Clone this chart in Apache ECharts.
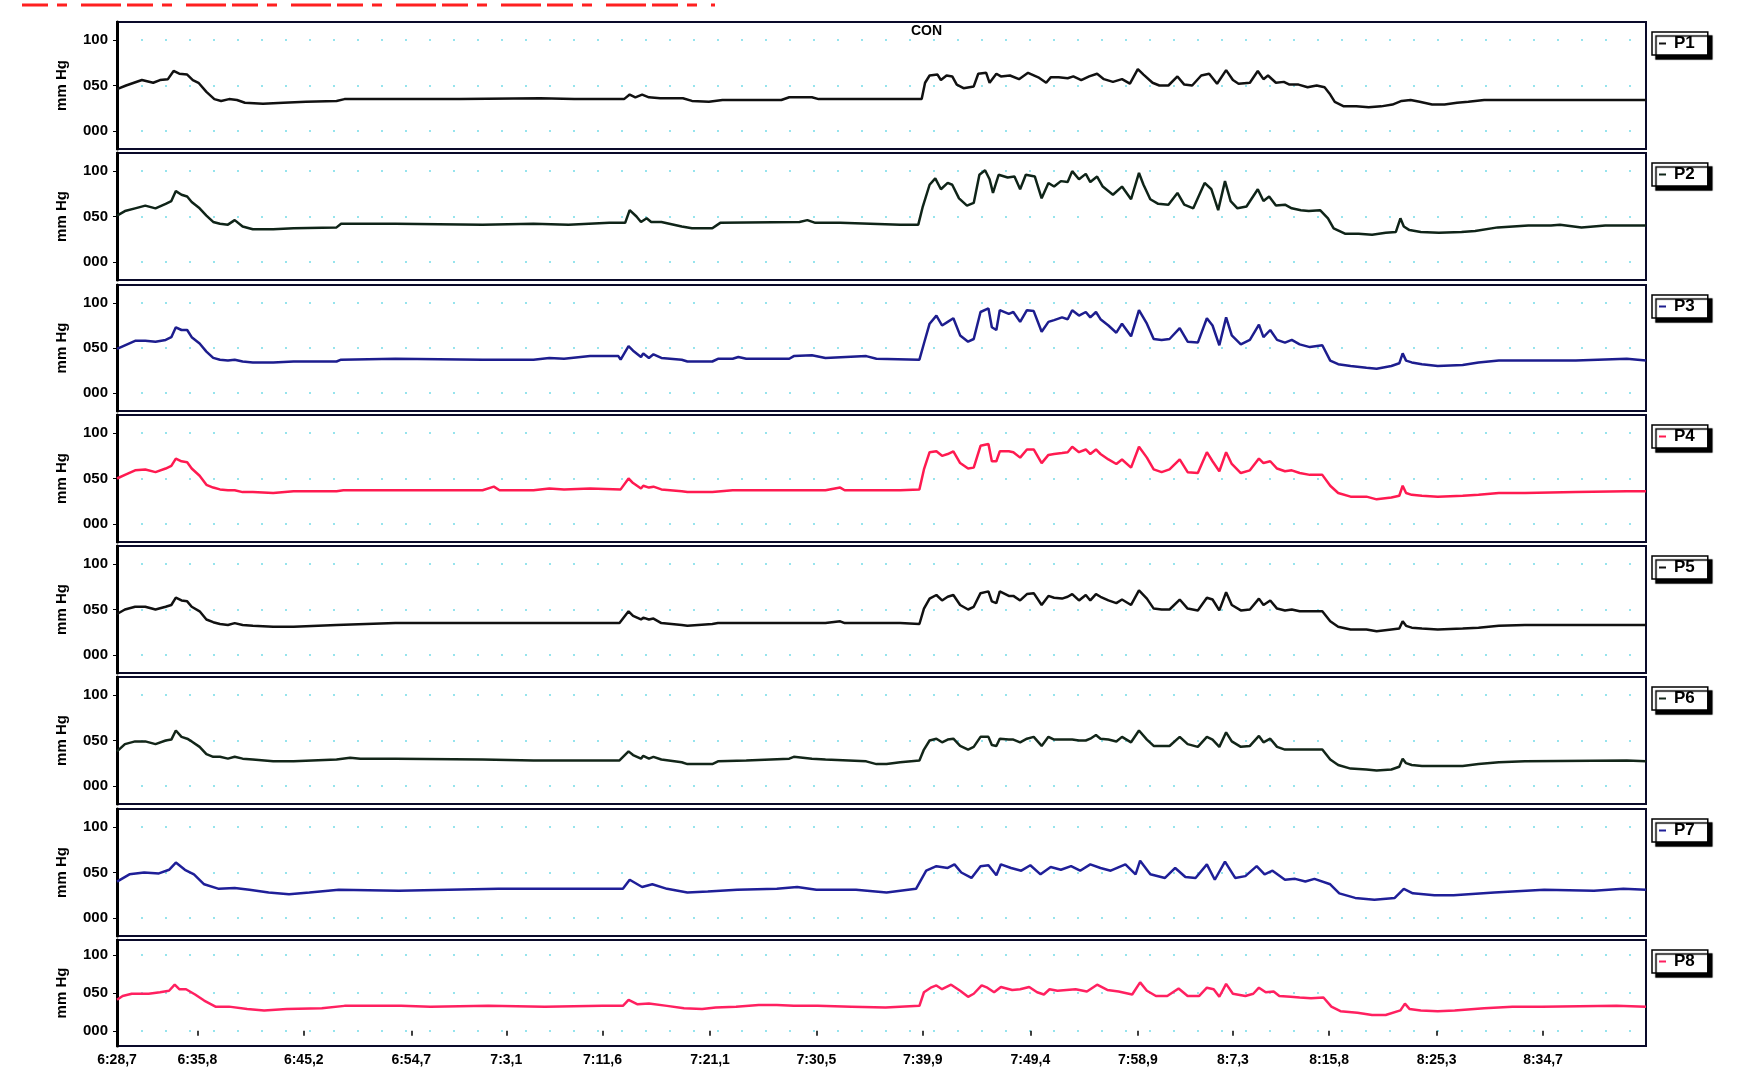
<!DOCTYPE html>
<html>
<head>
<meta charset="utf-8">
<script src="https://cdn.jsdelivr.net/npm/echarts@6/dist/echarts.min.js"></script>
<style>
    html, body { margin: 0; padding: 0; background: #fff; }
    #chart { width: 1752px; height: 1074px; }
</style>
</head>
<body>
<div id="chart"></div>
<script>
// time axis labels (h:min,tenths) and series names
const xTickLabels = ['6:28,7', '6:35,8', '6:45,2', '6:54,7', '7:3,1', '7:11,6', '7:21,1', '7:30,5',
    '7:39,9', '7:49,4', '7:58,9', '8:7,3', '8:15,8', '8:25,3', '8:34,7']
const yTickValues = [0, 50, 100]
const names = ['P1', 'P2', 'P3', 'P4', 'P5', 'P6', 'P7', 'P8']

// [minutes after 6:28,7, mm Hg]
const p1 = [[0,46],[0.8,50],[1.5,53],[2.2,56],[3.2,53],[3.8,56],[4.5,57],[5.0,66],[5.5,63],[6.2,62],[6.7,56],[7.2,53],[7.9,43],[8.6,35],[9.2,33],[9.9,35],[10.6,34],[11.3,31],[12.9,30],[14.7,31],[16.7,32],[19.4,33],[20.1,35],[23.5,35],[30.3,35],[37.4,36],[40.4,35],[42.7,35],[44.8,35],[45.3,40],[45.8,37],[46.4,40],[47.0,37],[48.0,36],[50.0,36],[50.8,33],[52.3,32],[53.5,34],[58.7,34],[59.4,37],[61.4,37],[62.0,35],[71.1,35],
    [71.4,53],[71.8,61],[72.5,62],[72.8,56],[73.3,61],[73.8,60],[74.2,51],[74.8,47],[75.7,49],[76.1,63],[76.8,64],[77.1,53],[77.7,63],[78.1,60],[78.9,61],[79.7,57],[80.5,64],[81.4,59],[82.1,53],[82.5,59],[83.2,59],[84.0,58],[84.5,60],[85.2,56],[85.9,60],[86.6,63],[87.2,57],[88.0,54],[88.8,57],[89.5,52],[90.2,68],[90.7,62],[91.5,53],[92.1,50],[92.9,50],[93.7,60],[94.3,51],[95.0,50],[95.8,61],[96.5,63],[97.2,52],[98.0,67],[98.6,56],[99.1,52],[100.1,53],[100.8,66],[101.3,57],[101.7,61],[102.4,53],[103.1,54],[103.6,51],[104.4,51],[105.2,48],[106.0,50],[106.7,48],[107.2,40],[107.6,32],[108.4,27],[109.5,27],[110.6,26],[111.7,27],[112.7,29],[113.5,33],[114.3,34],[115.1,32],[116.2,29],[117.3,29],[118.4,31],[119.4,32],[120.8,34],[135.1,34]]

const p2 = [[0,51],[0.7,56],[1.6,59],[2.5,62],[3.4,59],[4.3,64],[4.8,67],[5.2,78],[5.7,74],[6.2,72],[6.6,66],[7.3,59],[7.9,51],[8.5,44],[9.1,42],[9.8,41],[10.4,46],[11.1,39],[12.0,36],[13.8,36],[15.6,37],[19.4,38],[19.8,42],[24.6,42],[32.3,41],[36.8,42],[39.9,41],[43.5,43],[44.9,43],[45.3,57],[45.9,50],[46.3,44],[46.8,48],[47.2,44],[48.1,44],[49.9,39],[50.8,37],[52.6,37],[53.3,43],[60.3,44],[61.0,46],[61.7,43],[63.9,43],[69.2,41],[70.8,41],
    [71.2,61],[71.8,85],[72.3,92],[72.8,80],[73.4,87],[73.8,85],[74.4,70],[75.1,62],[75.7,65],[76.2,96],[76.7,101],[77.1,91],[77.4,76],[77.9,96],[78.7,93],[79.3,94],[79.8,80],[80.3,96],[81.1,94],[81.7,70],[82.3,87],[82.8,83],[83.4,89],[84.0,88],[84.4,100],[85.0,91],[85.6,97],[86.0,88],[86.6,94],[87.1,83],[88.0,74],[88.8,83],[89.6,69],[90.3,98],[90.7,85],[91.3,69],[92.0,64],[92.9,63],[93.7,76],[94.3,63],[95.1,59],[96.1,87],[96.7,80],[97.3,57],[97.9,89],[98.4,67],[99.0,59],[99.8,61],[100.8,80],[101.3,67],[101.8,72],[102.4,62],[103.2,63],[103.8,59],[104.6,57],[105.3,56],[106.3,57],[107.0,48],[107.5,37],[108.5,31],[109.7,31],[110.9,30],[112.1,32],[113.0,33],[113.4,48],[113.7,39],[114.2,35],[115.2,33],[116.8,32],[118.8,33],[120.0,34],[122.0,38],[124.7,40],[126.7,40],[127.5,41],[129.4,38],[131.5,40],[135.1,40]]

const p3 = [[0,49],[0.7,53],[1.6,58],[2.5,58],[3.4,57],[4.3,59],[4.8,62],[5.2,73],[5.7,70],[6.2,70],[6.6,62],[7.3,55],[7.9,46],[8.5,39],[9.1,37],[9.8,36],[10.4,37],[11.1,35],[12.0,34],[13.8,34],[15.6,35],[19.4,35],[19.8,37],[24.6,38],[32.3,37],[36.8,37],[38.2,39],[39.5,38],[41.8,41],[44.3,41],[44.5,37],[45.2,52],[45.6,47],[46.3,40],[46.5,44],[47.0,39],[47.4,43],[48.1,39],[49.9,37],[50.4,35],[52.6,35],[53.1,38],[54.4,38],[54.9,40],[55.6,38],[59.4,38],[59.8,41],[61.4,42],[62.6,39],[66.2,41],[67.1,38],[70.9,37],
    [71.3,55],[71.8,77],[72.4,86],[72.9,75],[73.4,79],[73.9,83],[74.5,64],[75.2,57],[75.7,60],[76.3,90],[77.0,94],[77.3,73],[77.7,70],[78.0,92],[78.8,88],[79.2,90],[79.8,79],[80.4,92],[81.0,91],[81.7,68],[82.3,79],[82.8,81],[83.5,84],[84.0,82],[84.4,92],[85.0,86],[85.6,90],[86.0,84],[86.5,90],[86.9,82],[87.6,75],[88.3,67],[88.8,77],[89.6,63],[90.3,92],[91.0,77],[91.6,60],[92.3,59],[93.0,60],[93.9,72],[94.6,57],[95.5,56],[96.3,83],[96.8,75],[97.4,53],[98.0,84],[98.5,64],[99.3,54],[100.1,59],[100.9,76],[101.3,62],[101.9,70],[102.5,59],[103.2,56],[103.8,59],[104.5,54],[105.4,51],[106.5,53],[107.2,36],[107.9,32],[109.0,30],[110.4,28],[111.3,27],[112.6,30],[113.3,33],[113.6,44],[113.9,36],[114.4,34],[115.3,32],[116.7,30],[118.9,31],[120.3,34],[122.1,36],[124.4,36],[128.9,36],[133.4,38],[135.1,36]]

const p4 = [[0,50],[0.7,54],[1.6,59],[2.5,60],[3.4,57],[4.3,61],[4.8,64],[5.2,72],[5.7,69],[6.2,68],[6.6,61],[7.3,53],[7.9,43],[8.5,40],[9.1,38],[9.8,37],[10.4,37],[11.1,35],[12.0,35],[13.8,34],[15.6,36],[19.4,36],[20.0,37],[24.6,37],[32.3,37],[33.3,41],[33.8,37],[36.8,37],[38.2,39],[39.5,38],[41.8,39],[44.5,38],[45.2,50],[45.6,45],[46.3,39],[46.5,42],[47.0,40],[47.4,41],[48.1,38],[49.9,36],[50.4,35],[52.6,35],[54.4,37],[59.4,37],[62.6,37],[63.9,40],[64.3,37],[69.2,37],[70.9,38],
    [71.3,60],[71.8,79],[72.4,80],[72.9,75],[73.4,77],[73.9,80],[74.5,67],[75.2,61],[75.7,62],[76.3,86],[77.0,88],[77.3,69],[77.7,69],[78.0,80],[78.8,80],[79.2,79],[79.8,73],[80.4,82],[81.0,82],[81.7,67],[82.3,76],[82.8,77],[83.5,78],[84.0,79],[84.4,85],[85.0,79],[85.6,82],[86.0,77],[86.5,82],[86.9,77],[87.6,71],[88.3,66],[88.8,71],[89.6,62],[90.3,85],[91.0,73],[91.6,60],[92.3,57],[93.0,60],[93.9,71],[94.6,57],[95.5,56],[96.3,79],[96.8,69],[97.4,58],[98.0,79],[98.5,66],[99.3,56],[100.1,59],[100.9,72],[101.3,67],[101.9,69],[102.5,61],[103.2,58],[103.8,59],[104.5,56],[105.4,54],[106.5,54],[107.2,42],[107.9,34],[109.0,30],[110.4,30],[111.3,27],[112.6,29],[113.3,31],[113.6,42],[113.9,34],[114.4,32],[115.3,31],[116.7,30],[118.9,31],[120.3,32],[122.1,34],[124.4,34],[128.9,35],[133.4,36],[135.1,36]]

const p5 = [[0,45],[0.7,50],[1.6,53],[2.5,53],[3.4,50],[4.3,53],[4.8,55],[5.2,63],[5.7,60],[6.2,59],[6.6,53],[7.3,48],[7.9,39],[8.5,36],[9.1,34],[9.8,33],[10.4,35],[11.1,33],[12.0,32],[13.8,31],[15.6,31],[19.4,33],[24.6,35],[32.3,35],[36.8,35],[44.4,35],[45.2,48],[45.6,43],[46.3,39],[46.5,41],[47.0,39],[47.4,40],[48.1,35],[49.9,33],[50.4,32],[52.6,34],[53.1,35],[59.4,35],[62.6,35],[63.9,37],[64.3,35],[69.2,35],[70.9,34],
    [71.3,51],[71.8,62],[72.4,66],[72.9,60],[73.4,64],[73.9,66],[74.5,55],[75.2,50],[75.7,53],[76.3,68],[77.0,70],[77.3,59],[77.7,57],[78.0,70],[78.8,65],[79.2,65],[79.8,60],[80.4,67],[81.0,68],[81.7,55],[82.3,65],[82.8,63],[83.5,62],[84.0,64],[84.4,67],[85.0,60],[85.6,66],[86.0,60],[86.5,67],[86.9,64],[87.6,60],[88.3,57],[88.8,61],[89.6,55],[90.3,71],[91.0,62],[91.6,51],[92.3,50],[93.0,50],[93.9,61],[94.6,51],[95.5,49],[96.3,63],[96.8,61],[97.4,49],[98.0,69],[98.5,55],[99.3,49],[100.1,50],[100.9,62],[101.3,55],[101.9,60],[102.5,51],[103.2,49],[103.8,50],[104.5,48],[106.5,48],[107.2,37],[107.9,31],[109.0,28],[110.4,28],[111.3,26],[112.6,28],[113.3,29],[113.6,37],[113.9,32],[114.4,30],[115.3,29],[116.7,28],[118.9,29],[120.3,30],[122.1,32],[124.4,33],[135.1,33]]

const p6 = [[0,38],[0.7,46],[1.6,49],[2.5,49],[3.4,46],[4.3,50],[4.8,51],[5.2,61],[5.7,54],[6.2,52],[6.6,49],[7.3,43],[7.9,35],[8.5,32],[9.1,32],[9.8,30],[10.4,32],[11.1,30],[12.0,29],[13.8,27],[15.6,27],[19.4,29],[20.6,31],[21.5,30],[24.6,30],[32.3,29],[36.8,28],[44.4,28],[45.2,38],[45.6,34],[46.3,30],[46.5,33],[47.0,30],[47.4,32],[48.1,29],[49.9,26],[50.4,24],[52.6,24],[53.1,27],[55.6,28],[59.4,30],[59.8,32],[61.4,30],[62.6,29],[66.2,27],[67.1,24],[68.0,24],[69.2,26],[70.9,28],
    [71.3,40],[71.8,50],[72.4,52],[72.9,48],[73.4,51],[73.9,52],[74.5,44],[75.2,40],[75.7,43],[76.3,54],[77.0,54],[77.3,45],[77.7,44],[78.0,52],[78.8,51],[79.2,51],[79.8,48],[80.4,52],[81.0,54],[81.7,44],[82.3,54],[82.8,51],[83.5,51],[84.0,51],[84.4,51],[85.0,50],[85.6,50],[86.0,52],[86.5,56],[86.9,52],[87.6,51],[88.3,49],[88.8,54],[89.6,48],[90.3,61],[91.0,51],[91.6,44],[93.0,44],[93.9,54],[94.6,46],[95.5,43],[96.3,54],[96.8,51],[97.4,43],[98.0,59],[98.5,49],[99.3,43],[100.1,44],[100.9,55],[101.3,48],[101.9,52],[102.5,43],[103.2,40],[104.5,40],[106.5,40],[107.2,29],[107.9,23],[109.0,19],[110.4,18],[111.3,17],[112.6,18],[113.3,21],[113.6,30],[113.9,25],[114.4,23],[115.3,22],[118.9,22],[120.3,24],[122.1,26],[124.4,27],[133.4,28],[135.1,27]]

const p7 = [[0,40],[1.1,48],[2.4,50],[3.7,49],[4.6,53],[5.2,61],[6.0,53],[6.8,48],[7.7,37],[9.0,32],[10.4,33],[11.7,31],[13.4,28],[15.2,26],[17.0,28],[19.6,31],[24.9,30],[29.3,31],[33.7,32],[38.1,32],[42.5,32],[44.7,32],[45.3,42],[46.4,34],[47.3,37],[48.6,32],[50.4,28],[52.2,29],[54.8,31],[58.3,32],[60.1,34],[61.8,31],[65.3,31],[68.0,28],[70.6,32],
    [71.5,52],[72.4,57],[73.4,55],[74.0,59],[74.6,50],[75.5,44],[76.3,57],[77.0,58],[77.7,47],[78.1,59],[79.0,55],[79.9,52],[80.7,58],[81.6,48],[82.5,56],[83.4,53],[84.3,57],[85.1,52],[86.0,59],[86.9,55],[87.8,52],[89.1,59],[90.0,48],[90.4,63],[91.3,48],[92.6,44],[93.5,55],[94.4,45],[95.3,44],[96.3,59],[97.0,42],[97.9,62],[98.8,44],[99.7,46],[100.7,57],[101.4,48],[102.1,52],[103.2,42],[104.1,43],[105.0,40],[105.8,43],[107.2,37],[108.0,27],[109.4,22],[111.1,20],[112.9,22],[113.7,32],[114.5,27],[116.4,25],[118.1,25],[121.7,28],[126.1,31],[130.5,30],[133.1,32],[135.1,31]]

const p8 = [[0,41],[0.5,46],[1.3,49],[2.8,49],[3.8,51],[4.6,53],[5.1,61],[5.5,55],[6.1,55],[6.9,48],[7.7,40],[8.7,32],[9.9,32],[11.5,29],[13.0,27],[15.0,29],[18.1,30],[20.1,33],[25.1,33],[27.7,32],[32.8,33],[37.8,32],[42.9,33],[44.7,33],[45.2,41],[46.0,35],[47.0,36],[48.6,33],[50.1,30],[51.7,29],[52.9,31],[54.7,32],[56.7,34],[58.3,34],[59.8,33],[61.9,33],[64.9,32],[67.9,31],[70.9,33],
    [71.3,51],[71.9,57],[72.4,60],[72.9,55],[73.7,61],[74.5,53],[75.2,45],[75.7,49],[76.4,60],[76.9,57],[77.5,51],[78.1,58],[79.1,54],[79.8,55],[80.6,58],[81.3,51],[81.9,48],[82.4,55],[83.1,53],[83.9,54],[84.7,55],[85.7,52],[86.6,61],[87.5,54],[88.5,52],[89.7,48],[90.4,64],[91.0,53],[91.8,46],[92.8,46],[93.8,56],[94.6,46],[95.6,46],[96.3,57],[96.9,55],[97.4,45],[98.0,62],[98.6,49],[99.7,46],[100.4,49],[100.9,57],[101.5,51],[102.2,52],[102.7,46],[103.7,45],[104.5,44],[105.5,43],[106.6,44],[107.3,32],[108.1,26],[109.6,24],[110.9,21],[112.1,21],[113.4,27],[113.8,36],[114.2,29],[115.2,27],[116.7,26],[118.2,27],[120.8,30],[123.3,32],[125.9,32],[132.5,33],[135.1,32]]

const seriesData = [p1, p2, p3, p4, p5, p6, p7, p8]
const colors = ['#111111', '#0f2418', '#1d1d8e', '#ff1a50', '#111111', '#132619', '#1f1f98', '#ff2060']

function toMinutes(s) {
    let [h, m] = s.split(':')
    return Number(h) * 60 + parseFloat(m.replace(',', '.'))
}
const start = toMinutes(xTickLabels[0])
const xTickValues = xTickLabels.map(s => +(toMinutes(s) - start).toFixed(2))
const xMax = 135.1

// panel boxes: top, height
const panels = [[22, 127], [153, 127], [285, 126], [415, 127], [546, 127], [677, 127], [809, 127], [940, 106]]
const font = 'Liberation Sans, Arial, sans-serif'

const myChart = echarts.init(document.getElementById('chart'))

const option = {
    animation: false,
    backgroundColor: '#fff',
    textStyle: { fontFamily: font },
    grid: panels.map(p => ({
        left: 117,
        width: 1529,
        top: p[0],
        height: p[1],
        show: true,
        borderColor: '#0a0a2a',
        borderWidth: 2,
    })),
    xAxis: panels.map((p, i) => {
        const last = i === panels.length - 1
        return {
            type: 'value',
            gridIndex: i,
            min: 0,
            max: xMax,
            axisLine: { show: false },
            splitLine: { show: false },
            axisTick: {
                show: last,
                customValues: xTickValues,
                length: 5,
                lineStyle: { color: '#000', width: 1.5 },
            },
            axisLabel: {
                show: last,
                customValues: xTickValues,
                margin: 7,
                color: '#000',
                fontSize: 14,
                fontWeight: 'bold',
                fontFamily: font,
                formatter: v => {
                    let k = xTickValues.findIndex(t => Math.abs(t - v) < 0.01)
                    return k >= 0 ? xTickLabels[k] : ''
                },
            },
        }
    }),
    yAxis: panels.map((p, i) => ({
        type: 'value',
        gridIndex: i,
        min: -20,
        max: 120,
        name: 'mm Hg',
        nameLocation: 'middle',
        nameGap: 48,
        nameTextStyle: { color: '#000', fontSize: 15, fontWeight: 'bold', fontFamily: font },
        axisLine: { show: true, lineStyle: { color: '#000', width: 3 } },
        axisTick: {
            show: true,
            customValues: yTickValues,
            length: 4,
            lineStyle: { color: '#000', width: 1 },
        },
        axisLabel: {
            customValues: yTickValues,
            margin: 9,
            color: '#000',
            fontSize: 15,
            fontWeight: 'bold',
            fontFamily: font,
            formatter: v => String(v).padStart(3, '0'),
        },
        splitLine: {
            show: true,
            lineStyle: { color: '#74dbe8', width: 1.5, type: [2, 22] },
        },
    })),
    legend: names.map((n, i) => ({
        data: [n],
        left: 1652,
        top: panels[i][0] + 10,
        icon: 'rect',
        itemWidth: 7,
        itemHeight: 2,
        backgroundColor: '#fff',
        borderColor: '#000',
        borderWidth: 1.5,
        borderRadius: 0,
        padding: [3, 13, 3, 7],
        shadowColor: '#000',
        shadowBlur: 1,
        shadowOffsetX: 4,
        shadowOffsetY: 4,
        selectedMode: false,
        textStyle: { color: '#000', fontSize: 17, fontWeight: 'bold', fontFamily: font, padding: [0, 0, 0, 3] },
    })),
    title: {
        text: 'CON',
        left: 911,
        top: 24,
        padding: 0,
        textStyle: { color: '#000', fontSize: 14, fontWeight: 'bold', fontFamily: font },
    },
    graphic: [
        {
            type: 'line',
            shape: { x1: 22, y1: 5, x2: 715, y2: 5 },
            style: { stroke: '#ff2020', lineWidth: 3, lineDash: [26, 9, 10, 14, 40, 6] },
            silent: true,
        },
    ],
    series: seriesData.map((d, i) => ({
        name: names[i],
        type: 'line',
        xAxisIndex: i,
        yAxisIndex: i,
        data: d,
        showSymbol: false,
        symbol: 'none',
        silent: true,
        color: colors[i],
        lineStyle: { color: colors[i], width: 2.5 },
    })),
}

myChart.setOption(option)
</script>
</body>
</html>
